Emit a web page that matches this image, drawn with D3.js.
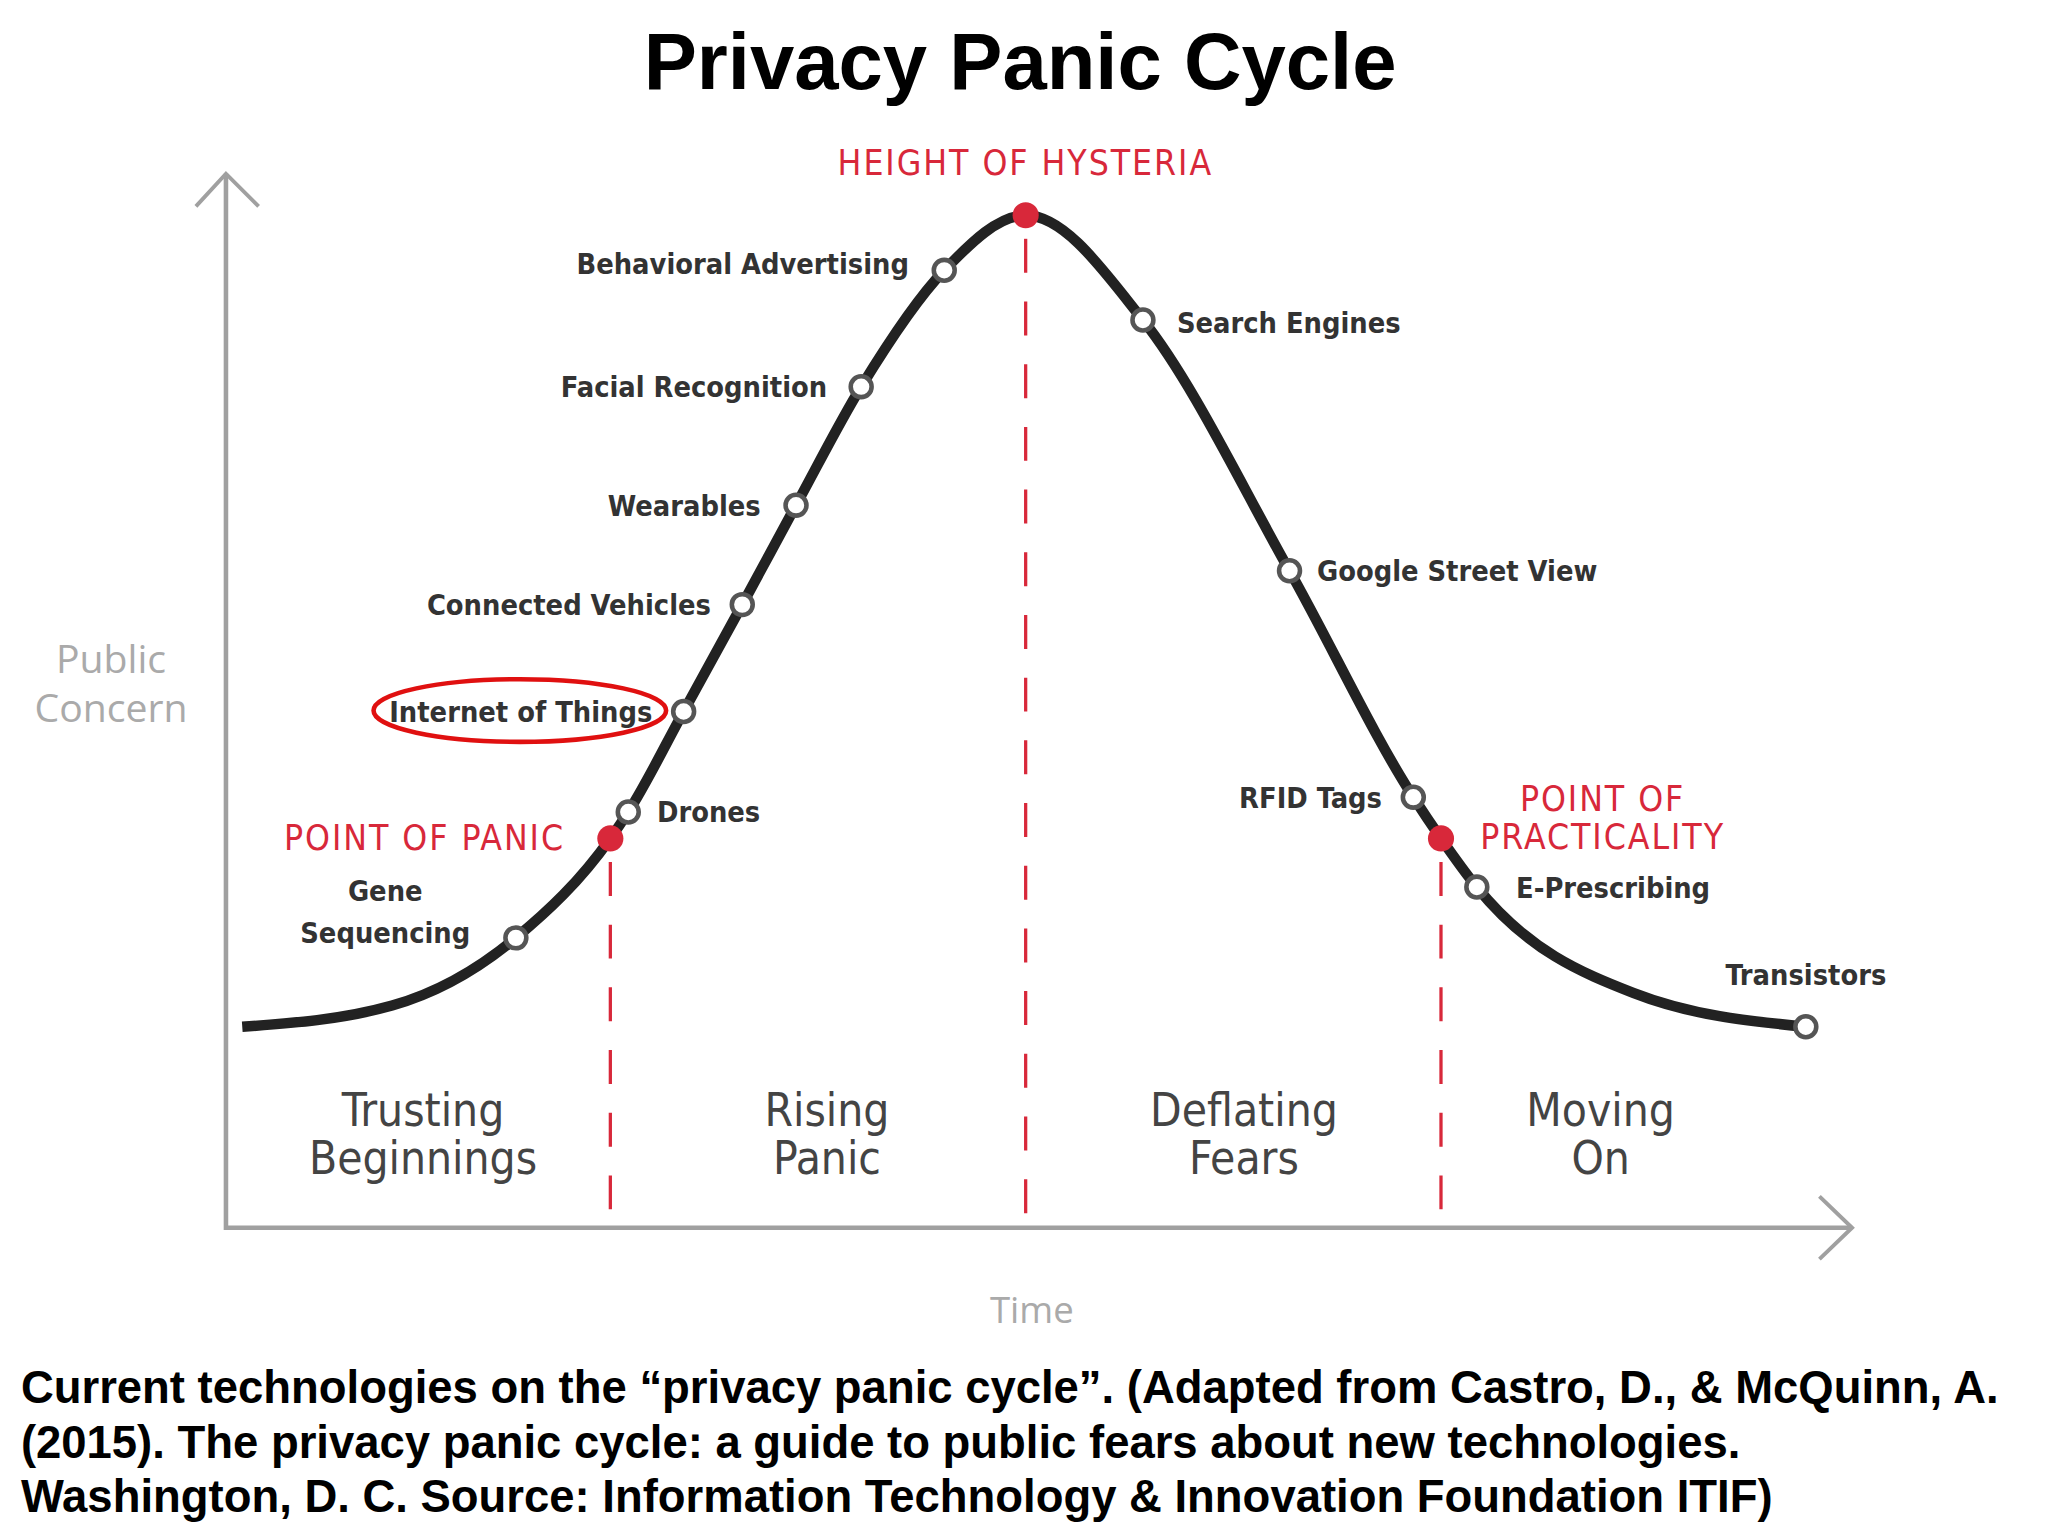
<!DOCTYPE html>
<html><head><meta charset="utf-8">
<script src="https://cdn.jsdelivr.net/npm/d3@7"></script>
<style>body{margin:0;background:#fff}</style>
</head><body>
<script>
// curve shape: time (0-100) vs public concern (0-100)
const curveTime    = [1.0, 10.2, 17.8, 23.6, 24.7, 28.1, 31.7, 35.0, 39.0, 44.1, 49.1, 56.3, 65.3, 72.9, 74.6, 76.8, 86.4, 97.0];
const curveConcern = [19.0, 21.0, 27.4, 36.8, 39.3, 48.8, 58.9, 68.3, 79.5, 90.5, 95.7, 85.8, 62.1, 40.7, 36.8, 32.2, 22.2, 19.0];

// technologies placed on the curve (index into curve points)
const techNames = ["Gene|Sequencing", "Drones", "Internet of Things", "Connected Vehicles", "Wearables",
  "Facial Recognition", "Behavioral Advertising", "Search Engines", "Google Street View", "RFID Tags",
  "E-Prescribing", "Transistors"];
const techIndex = [2, 4, 5, 6, 7, 8, 9, 11, 12, 13, 15, 17];

const phaseNames = ["POINT OF PANIC", "HEIGHT OF HYSTERIA", "POINT OF|PRACTICALITY"];
const phaseIndex = [3, 10, 14];

const stageNames = ["Trusting|Beginnings", "Rising|Panic", "Deflating|Fears", "Moving|On"];
const stageTime  = [12.1, 36.9, 62.5, 84.4];

const W = 1568, H = 1176;
const svg = d3.select("body").append("svg")
  .attr("width", 2048).attr("height", 1536)
  .attr("viewBox", `0 0 ${W} ${H}`);

const x = d3.scaleLinear().domain([0, 100]).range([173, 1420]);
const y = d3.scaleLinear().domain([0, 100]).range([940, 130]);
const pts = curveTime.map((t, i) => [t, curveConcern[i]]);

const condensed = "'DejaVu Sans Condensed','DejaVu Sans',sans-serif";

svg.append("text").attr("x", 781).attr("y", 68).attr("text-anchor", "middle")
  .attr("font-family", "'Liberation Sans',Arial,sans-serif").attr("font-weight", "bold")
  .attr("font-size", 61).text("Privacy Panic Cycle");

// axes
const axisCol = "#a0a0a0";
svg.append("path").attr("d", `M173,133 V940 H1418`).attr("fill", "none").attr("stroke", axisCol).attr("stroke-width", 3.5);
svg.append("path").attr("d", `M150,158 L173,133 L198,158`).attr("fill", "none").attr("stroke", axisCol).attr("stroke-width", 3);
svg.append("path").attr("d", `M1393,916 L1418,940 L1393,964`).attr("fill", "none").attr("stroke", axisCol).attr("stroke-width", 3);
svg.append("text").attr("x", 85).attr("y", 515).attr("text-anchor", "middle").attr("fill", "#aaa")
  .attr("font-family", "'Open Sans',sans-serif").attr("font-size", 30)
  .selectAll("tspan").data(["Public", "Concern"]).join("tspan")
  .attr("x", 85).attr("dy", (d, i) => i ? 38 : 0).text(d => d);
svg.append("text").attr("x", 790).attr("y", 1013).attr("text-anchor", "middle").attr("fill", "#aaa")
  .attr("font-family", "'Open Sans',sans-serif").attr("font-size", 28).text("Time");

// dashed phase lines
phaseIndex.forEach(i => {
  svg.append("line").attr("x1", x(curveTime[i])).attr("x2", x(curveTime[i]))
    .attr("y1", y(curveConcern[i]) + 18).attr("y2", 940)
    .attr("stroke", "#d8283a").attr("stroke-width", 2.5).attr("stroke-dasharray", "26,22");
});

// curve
svg.append("path").datum(pts)
  .attr("d", d3.line().x(d => x(d[0])).y(d => y(d[1])).curve(d3.curveMonotoneX))
  .attr("fill", "none").attr("stroke", "#222").attr("stroke-width", 8);

// tech markers
techIndex.forEach(i => {
  svg.append("circle").attr("cx", x(curveTime[i])).attr("cy", y(curveConcern[i])).attr("r", 8)
    .attr("fill", "#fff").attr("stroke", "#555").attr("stroke-width", 3.5);
});
phaseIndex.forEach(i => {
  svg.append("circle").attr("cx", x(curveTime[i])).attr("cy", y(curveConcern[i])).attr("r", 10).attr("fill", "#d8283a");
});

// tech labels: offsets relative to marker
const labelOff = [[-100, -32, "middle"], [22, 0, "start"], [-24, 0, "end"], [-24, 0, "end"], [-27, 0, "end"],
  [-26, 0, "end"], [-27, -5, "end"], [26, 2, "start"], [21, 0, "start"], [-24, 0, "end"], [30, 0, "start"], [0, -40, "middle"]];
techIndex.forEach((idx, k) => {
  const [dx, dy, anc] = labelOff[k];
  const lines = techNames[k].split("|");
  svg.append("text").attr("text-anchor", anc).attr("fill", "#333")
    .attr("font-family", condensed).attr("font-weight", "bold").attr("font-size", 22)
    .selectAll("tspan").data(lines).join("tspan")
    .attr("x", x(curveTime[idx]) + dx)
    .attr("y", (d, i) => y(curveConcern[idx]) + dy + 8 + i * 32 - (lines.length > 1 ? 4 : 0))
    .text(d => d);
});
// highlight ellipse around Internet of Things
svg.append("ellipse").attr("cx", 398).attr("cy", 544).attr("rx", 112).attr("ry", 24)
  .attr("fill", "none").attr("stroke", "#e01010").attr("stroke-width", 3.5);

// phase labels
const phasePos = [[325, 651, "middle"], [785, 134, "middle"], [1227, 621, "middle"]];
phaseNames.forEach((n, k) => {
  const [px, py, anc] = phasePos[k];
  svg.append("text").attr("text-anchor", anc).attr("fill", "#d8283a")
    .attr("font-family", condensed).attr("font-size", 27).attr("letter-spacing", 1.5)
    .selectAll("tspan").data(n.split("|")).join("tspan")
    .attr("x", px).attr("y", (d, i) => py + i * 29).text(d => d);
});

// stage labels
stageNames.forEach((n, k) => {
  svg.append("text").attr("text-anchor", "middle").attr("fill", "#444")
    .attr("font-family", condensed).attr("font-size", 35)
    .selectAll("tspan").data(n.split("|")).join("tspan")
    .attr("x", x(stageTime[k])).attr("y", (d, i) => 862 + i * 37).text(d => d);
});

// caption
const caption = ["Current technologies on the \u201cprivacy panic cycle\u201d. (Adapted from Castro, D., & McQuinn, A.",
  "(2015). The privacy panic cycle: a guide to public fears about new technologies.",
  "Washington, D. C. Source: Information Technology & Innovation Foundation ITIF)"];
svg.append("text").attr("font-family", "'Liberation Sans',Arial,sans-serif").attr("font-weight", "bold")
  .attr("font-size", 34.8).selectAll("tspan").data(caption).join("tspan")
  .attr("x", 16).attr("y", (d, i) => 1074 + i * 42).text(d => d);
</script>
</body></html>
